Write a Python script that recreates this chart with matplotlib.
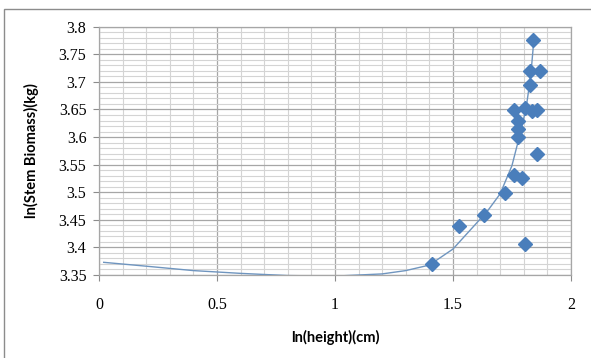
import matplotlib.pyplot as plt
from matplotlib.patches import Rectangle
from matplotlib.ticker import MultipleLocator, FuncFormatter

plt.rcParams['font.family'] = ['Lato', 'DejaVu Sans']

# measured points: ln(height) vs ln(stem biomass)
ln_height = [1.412, 1.525, 1.630, 1.722, 1.757, 1.792, 1.806, 1.840, 1.825,
             1.871, 1.825, 1.757, 1.805, 1.837, 1.857, 1.774, 1.774, 1.774,
             1.857]
ln_biomass = [3.370, 3.439, 3.459, 3.499, 3.531, 3.526, 3.407, 3.776, 3.720,
              3.720, 3.695, 3.649, 3.653, 3.647, 3.649, 3.629, 3.614, 3.600,
              3.569]

# trendline as shown on the chart
trend_x = [0.02, 0.2, 0.4, 0.6, 0.8, 1.0, 1.2, 1.3, 1.4, 1.5, 1.6, 1.65,
           1.7, 1.75, 1.78, 1.81, 1.83, 1.843]
trend_y = [3.373, 3.366, 3.358, 3.353, 3.349, 3.348, 3.352, 3.358, 3.368,
           3.397, 3.444, 3.468, 3.497, 3.548, 3.598, 3.652, 3.712, 3.776]

fig = plt.figure(figsize=(5.91, 3.58), dpi=100)

# outer chart border
fig.patches.append(Rectangle((4 / 591, -0.05), 1.0, 1 - 9 / 358 + 0.05,
                             transform=fig.transFigure, fill=False,
                             edgecolor='#8c8c8c', linewidth=1.0))

ax = fig.add_axes([0.1675, 0.2318, 0.7985, 0.6936])

ax.set_xlim(0, 2)
ax.set_ylim(3.35, 3.8)
ax.xaxis.set_major_locator(MultipleLocator(0.5))
ax.xaxis.set_minor_locator(MultipleLocator(0.1))
ax.yaxis.set_major_locator(MultipleLocator(0.05))
ax.yaxis.set_minor_locator(MultipleLocator(0.01))
fmt = FuncFormatter(lambda v, pos: '%g' % round(v, 2))
ax.xaxis.set_major_formatter(fmt)
ax.yaxis.set_major_formatter(fmt)

ax.grid(which='minor', color='#d4d4d4', linewidth=0.8)
ax.grid(which='major', color='#a6a6a6', linewidth=0.9)
ax.set_axisbelow(True)

for s in ax.spines.values():
    s.set_color('#a6a6a6')
    s.set_linewidth(0.9)

ax.tick_params(which='major', direction='out', length=4, color='#8c8c8c',
               pad=12)
ax.tick_params(axis='y', which='major', pad=5)
ax.tick_params(which='minor', length=0)
for lbl in ax.get_xticklabels() + ax.get_yticklabels():
    lbl.set_fontfamily('Liberation Serif')
    lbl.set_fontsize(11.5)

ax.plot(trend_x, trend_y, color='#6f95bf', linewidth=1.0, zorder=3)
ax.plot(ln_height, ln_biomass, linestyle='none', marker='D', markersize=7,
        color='#4a7ebb', zorder=4, clip_on=False)

ax.set_xlabel('ln(height)(cm)', fontsize=10.5, fontweight='bold', labelpad=12)
ax.set_ylabel('ln(Stem Biomass)(kg)', fontsize=10.5, fontweight='bold',
              labelpad=14)

fig.savefig('out.png', dpi=100)
